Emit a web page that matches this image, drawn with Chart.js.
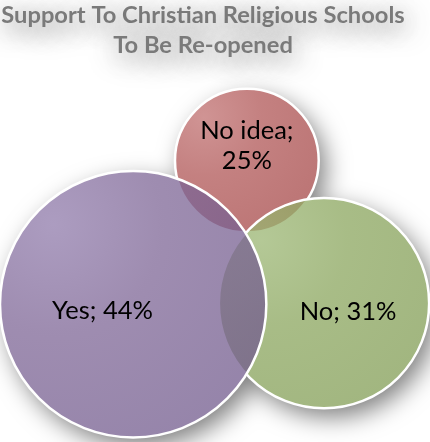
<!DOCTYPE html>
<html>
<head>
<meta charset="utf-8">
<title>Support To Christian Religious Schools</title>
<script src="https://cdn.jsdelivr.net/npm/chart.js@4.4.1/dist/chart.umd.min.js"></script>
<style>
  html, body { margin: 0; padding: 0; background: #fff; }
  #wrap { width: 430px; height: 442px; }
</style>
</head>
<body>
<div id="wrap"><canvas id="venn"></canvas></div>
<script>
// 📊 DADOS: respostas e percentuais
const answers = ['No idea', 'No', 'Yes'];
const shares = [25, 31, 44];

// ⭕ CÍRCULOS: centro e raio em unidades dos eixos (0–100)
const centerX = [60.8, 79.8, 32.8];
const centerY = [75.2, 37.1, 36.8];
const circleSize = [17.7, 25.9, 32.8];

// 🎨 CORES: claro / meio / escuro de cada círculo
const palette = [
    ['rgba(192,112,112,0.75)', 'rgba(176,86,86,0.75)', 'rgba(166,72,72,0.75)'],
    ['rgba(155,182,115,0.75)', 'rgba(139,166,94,0.75)', 'rgba(131,158,86,0.75)'],
    ['rgba(144,123,171,0.75)', 'rgba(126,102,150,0.75)', 'rgba(115,92,142,0.75)']
];

// raio em pixels a partir da escala x
function radiusPx(chart, i) {
    const x = chart.scales.x;
    if (!x) return 0;
    return x.getPixelForValue(circleSize[i]) - x.getPixelForValue(0);
}

// gradiente radial, um pouco mais claro no canto superior esquerdo
function circleFill(context) {
    const chart = context.chart;
    const i = context.dataIndex;
    if (!chart.chartArea || i === undefined) return palette[0][1];
    const cx = chart.scales.x.getPixelForValue(centerX[i]);
    const cy = chart.scales.y.getPixelForValue(centerY[i]);
    const r = radiusPx(chart, i);
    const g = chart.ctx.createRadialGradient(cx - r * 0.6, cy - r * 0.6, 0, cx - r * 0.6, cy - r * 0.6, r * 1.8);
    g.addColorStop(0, palette[i][0]);
    g.addColorStop(0.45, palette[i][1]);
    g.addColorStop(1, palette[i][2]);
    return g;
}

// 🌫️ SOMBRAS: halo do título e sombra suave atrás dos círculos
const shadowPlugin = {
    id: 'sombras',
    beforeDraw(chart) {
        const ctx = chart.ctx;
        ctx.save();
        ctx.shadowColor = 'rgba(0,0,0,0.8)';
        ctx.shadowBlur = 28;
        ctx.shadowOffsetX = 2;
        ctx.shadowOffsetY = 6;
    },
    beforeDatasetsDraw(chart) {
        const ctx = chart.ctx;
        ctx.restore();
        const meta = chart.getDatasetMeta(0);
        ctx.save();
        ctx.shadowColor = 'rgba(0,0,0,0.5)';
        ctx.shadowBlur = 24;
        ctx.shadowOffsetX = 7;
        ctx.shadowOffsetY = 9;
        ctx.fillStyle = '#fff';
        ctx.beginPath();
        meta.data.forEach(pt => {
            const r = pt.options.radius;
            ctx.moveTo(pt.x + r, pt.y);
            ctx.arc(pt.x, pt.y, r, 0, Math.PI * 2);
        });
        ctx.fill();
        ctx.restore();
    }
};

// 🏷️ RÓTULOS: "resposta; valor%" dentro de cada círculo
const labelPlugin = {
    id: 'rotulos',
    afterDatasetsDraw(chart, args, opts) {
        const ctx = chart.ctx;
        const meta = chart.getDatasetMeta(0);
        ctx.save();
        ctx.font = opts.font;
        ctx.fillStyle = opts.color;
        ctx.textAlign = 'center';
        ctx.textBaseline = 'middle';
        meta.data.forEach((pt, i) => {
            const r = pt.options.radius;
            const text = `${answers[i]}; ${shares[i]}%`;
            let lines = [text];
            if (ctx.measureText(text).width > r * 1.4) {
                lines = [`${answers[i]};`, `${shares[i]}%`];
            }
            const x = pt.x + opts.shift[i][0] * r;
            const y = pt.y + opts.shift[i][1] * r;
            lines.forEach((ln, k) => {
                ctx.fillText(ln, x, y + (k - (lines.length - 1) / 2) * opts.lineHeight);
            });
        });
        ctx.restore();
    }
};

const vennChart = new Chart(document.getElementById('venn'), {
    type: 'bubble',
    data: {
        labels: answers,
        datasets: [{
            // parsing desligado: o raio vem da opção "radius" abaixo
            parsing: false,
            data: answers.map((a, i) => ({ x: centerX[i], y: centerY[i] })),
            radius: ctx => radiusPx(ctx.chart, ctx.dataIndex),
            backgroundColor: circleFill,
            borderColor: '#ffffff',
            borderWidth: 2.5,
            clip: false
        }]
    },
    options: {
        responsive: true,
        maintainAspectRatio: false,
        animation: false,
        events: [],
        layout: { padding: { right: 24 } },
        scales: {
            x: { type: 'linear', min: 0, max: 100, display: false },
            y: { type: 'linear', min: 0, max: 100, display: false }
        },
        plugins: {
            legend: { display: false },
            tooltip: { enabled: false },
            title: {
                display: true,
                fullSize: false,
                text: ['Support To Christian Religious Schools', 'To Be Re-opened'],
                color: '#7a7a7a',
                font: { family: 'Lato', size: 23.7, weight: 'bold', lineHeight: 1.24 },
                padding: { top: 1, bottom: 8 }
            },
            rotulos: {
                font: '25.5px Lato',
                color: '#000',
                lineHeight: 30,
                shift: [[0, -0.21], [0.23, 0.08], [-0.23, 0.05]]
            }
        }
    },
    plugins: [shadowPlugin, labelPlugin]
});
</script>
</body>
</html>
